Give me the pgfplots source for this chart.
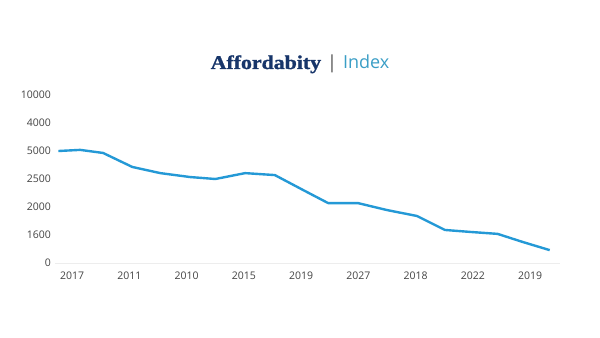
\documentclass[border=0pt]{standalone}
\usepackage{fontspec}
\setmainfont{Open Sans}
\newfontfamily\titleserif[FakeStretch=1.12,FakeBold=1.2]{Liberation Serif}
\usepackage{pgfplots}
\pgfplotsset{compat=1.18}
\definecolor{linec}{HTML}{2499D6}
\definecolor{navy}{HTML}{17356A}
\definecolor{idxc}{HTML}{3A9EC6}
\definecolor{tickc}{HTML}{444444}
\begin{document}
\begin{tikzpicture}
\useasboundingbox (0,0) rectangle (600bp,338bp);
\fill[white] (0,0) rectangle (600bp,338bp);
\node[anchor=base] at (300bp,269bp) {{\titleserif\bfseries\fontsize{19.5bp}{22bp}\selectfont\color{navy}Affordabity}\hspace{6bp}{\fontsize{18bp}{22bp}\selectfont\color{black!70}|}\hspace{6bp}{\fontsize{18bp}{22bp}\selectfont\color{idxc}Index}};
\begin{axis}[
  at={(55bp,75bp)}, anchor=south west,
  scale only axis, width=505bp, height=179.2bp,
  xmin=-0.3, xmax=8.52, ymin=0, ymax=6.4,
  axis lines=left,
  x axis line style={-, draw=black!7, line width=0.8pt},
  y axis line style={draw=none},
  major tick length=0pt,
  xtick={0,1,2,3,4,5,6,7,8},
  xticklabels={2017,2011,2010,2015,2019,2027,2018,2022,2019},
  ytick={0,1,2,3,4,5,6},
  yticklabels={0,1600,2000,2500,5000,4000,10000},
  every tick label/.append style={font=\fontsize{10.5bp}{12bp}\selectfont, text=tickc},
  yticklabel style={inner sep=0pt, xshift=-4bp},
  xticklabel style={inner sep=0pt, yshift=-9bp},
  clip=false,
]
\addplot[linec, line width=2.4pt, line join=round] coordinates {
(-0.24,4.00) (0.14,4.04) (0.54,3.93) (1.05,3.43) (1.54,3.21) (2.06,3.07)
(2.50,3.00) (3.02,3.21) (3.54,3.14) (4.03,2.61) (4.47,2.14) (4.99,2.14)
(5.50,1.89) (6.02,1.68) (6.51,1.18) (6.95,1.11) (7.43,1.04) (7.87,0.75) (8.34,0.46)
};
\end{axis}
\end{tikzpicture}
\end{document}
